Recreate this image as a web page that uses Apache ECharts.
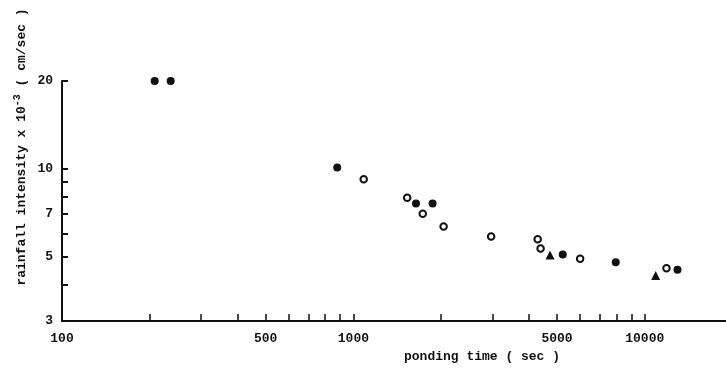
<!DOCTYPE html>
<html>
<head>
<meta charset="utf-8">
<script src="https://cdn.jsdelivr.net/npm/echarts@6/dist/echarts.min.js"></script>
<style>html,body{margin:0;padding:0;background:#fff;}#c{width:726px;height:373px;}</style>
</head>
<body>
<div id="c"></div>
<script>
// Data (ponding time in sec, rainfall intensity x 1e-3 cm/sec)
const filledX = [208, 236, 880, 1640, 1870, 5230, 7950, 12950];
const filledY = [20, 20, 10.1, 7.6, 7.6, 5.07, 4.77, 4.5];
const openX = [1085, 1530, 1730, 2040, 2970, 4290, 4390, 6000, 11870];
const openY = [9.2, 7.95, 7.0, 6.33, 5.85, 5.73, 5.32, 4.91, 4.55];
const triX = [4730, 10900];
const triY = [5.05, 4.3];

const xTickValues = [200, 300, 400, 500, 600, 700, 800, 900, 1000, 2000, 3000, 4000, 5000, 6000, 7000, 8000, 9000, 10000];
const xLabelValues = [100, 500, 1000, 5000, 10000];
const yTickValues = [4, 5, 6, 7, 8, 9, 10, 20];
const yLabelValues = [3, 5, 7, 10, 20];

const xTitle = 'ponding time ( sec )';
const yTitleA = 'rainfall intensity x 10';
const yTitleSup = '-3';
const yTitleB = ' ( cm/sec )';

const zip = (xs, ys) => xs.map((x, i) => [x, ys[i]]);
const ink = '#111111';
const font = '"Liberation Mono", "DejaVu Sans Mono", monospace';

const chart = echarts.init(document.getElementById('c'), null, {renderer: 'canvas'});
chart.setOption({
  animation: false,
  backgroundColor: '#ffffff',
  grid: {left: 62, right: 0, top: 81, bottom: 52, containLabel: false},
  xAxis: {
    type: 'log', logBase: 10, min: 100, max: 19000,
    axisLine: {show: true, lineStyle: {color: ink, width: 2}},
    axisTick: {show: true, inside: true, length: 7, customValues: xTickValues, lineStyle: {color: ink, width: 1.5}},
    minorTick: {show: false},
    splitLine: {show: false},
    axisLabel: {show: true, customValues: xLabelValues, margin: 11, color: ink, fontFamily: font, fontSize: 13, fontWeight: 'bold',
      formatter: v => String(Math.round(v))}
  },
  yAxis: {
    type: 'log', logBase: 10, min: 3, max: 20,
    axisLine: {show: true, lineStyle: {color: ink, width: 2}},
    axisTick: {show: true, inside: true, length: 6, customValues: yTickValues, lineStyle: {color: ink, width: 2}},
    minorTick: {show: false},
    splitLine: {show: false},
    axisLabel: {show: true, customValues: yLabelValues, margin: 9, color: ink, fontFamily: font, fontSize: 13, fontWeight: 'bold',
      formatter: v => String(Math.round(v))}
  },
  graphic: [
    {type: 'text', x: 482, y: 357, style: {text: xTitle, font: 'bold 13px ' + font, fill: ink, align: 'center', verticalAlign: 'middle'}},
    {type: 'text', x: 22, y: 147, rotation: Math.PI / 2,
      style: {
        text: yTitleA + '{sup|' + yTitleSup + '}' + yTitleB,
        font: 'bold 13px ' + font, fill: ink, align: 'center', verticalAlign: 'middle',
        rich: {sup: {font: 'bold 10px ' + font, fill: ink, padding: [0, 0, 10, 0]}}
      }}
  ],
  series: [
    {type: 'scatter', name: 'filled', data: zip(filledX, filledY), symbol: 'circle', symbolSize: 8, clip: false,
      itemStyle: {color: ink, opacity: 1}},
    {type: 'scatter', name: 'open', data: zip(openX, openY), symbol: 'circle', symbolSize: 6.5, clip: false,
      itemStyle: {color: '#ffffff', borderColor: ink, borderWidth: 2, opacity: 1}},
    {type: 'scatter', name: 'triangle', data: zip(triX, triY), symbol: 'triangle', symbolSize: 9, clip: false,
      itemStyle: {color: ink, opacity: 1}}
  ]
});
</script>
</body>
</html>
